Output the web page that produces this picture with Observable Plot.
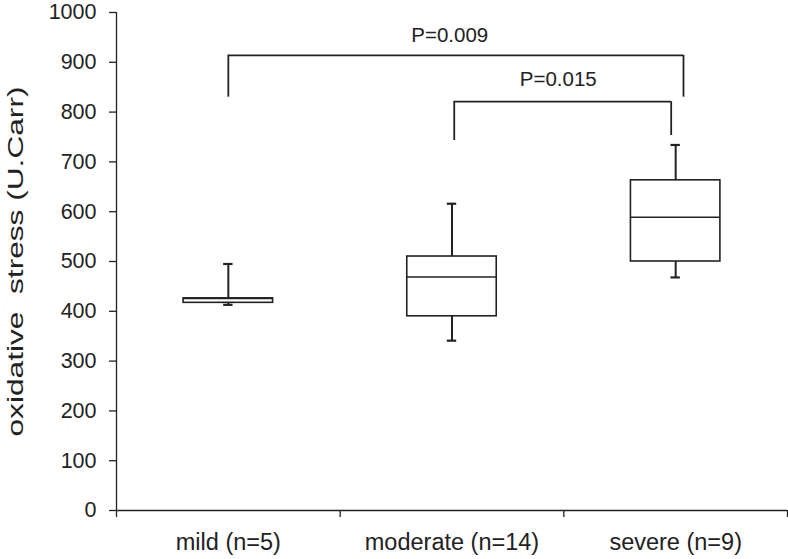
<!DOCTYPE html>
<html>
<head>
<meta charset="utf-8">
<script src="https://cdn.jsdelivr.net/npm/d3@7"></script>
<script src="https://cdn.jsdelivr.net/npm/@observablehq/plot@0.6"></script>
<style>
  html, body { margin: 0; padding: 0; background: #fff; }
  svg text { white-space: pre; }
</style>
</head>
<body>
<div id="chart"></div>
<script>
// ---- data ----
const groups = ["mild (n=5)", "moderate (n=14)", "severe (n=9)"];
const groupPos = [0.5, 1.5, 2.5];
const whiskerLow = [413, 341, 468];
const q1 = [417, 390, 500];
const median = [426, 469, 589];
const q3 = [426, 510, 663];
const whiskerHigh = [495, 616, 734];

const yTicks = [0, 100, 200, 300, 400, 500, 600, 700, 800, 900, 1000];
const yLabel = "oxidative  stress (U.Carr)";

// significance brackets
const bracketLabels = ["P=0.009", "P=0.015"];
const bracketLeft = [0.5, 1.51];
const bracketRight = [2.535, 2.48];
const bracketTop = [914, 821];
const bracketLeftEnd = [830, 743];
const bracketRightEnd = [830, 753];
const bracketLabelX = [1.49, 1.975];
const bracketLabelY = [953, 866];

// ---- tables ----
const boxes = groups.map((g, i) => ({
  g, x: groupPos[i], lo: whiskerLow[i], q1: q1[i], med: median[i], q3: q3[i], hi: whiskerHigh[i]
}));
const brackets = bracketLabels.map((t, i) => ({
  t, x1: bracketLeft[i], x2: bracketRight[i], top: bracketTop[i],
  le: bracketLeftEnd[i], re: bracketRightEnd[i], tx: bracketLabelX[i], ty: bracketLabelY[i]
}));

const boxHalf = 0.2, capHalf = 0.021;
const ink = "#222";

const chart = Plot.plot({
  width: 788,
  height: 559,
  marginLeft: 116,
  marginRight: 1,
  marginTop: 12,
  marginBottom: 49,
  style: { fontFamily: "'Liberation Sans', Arial, sans-serif", color: ink, background: "#fff" },
  x: { domain: [0, 3], axis: null },
  y: { domain: [0, 1000], axis: null },
  marks: [
    // y axis
    Plot.axisY({
      ticks: yTicks, tickSize: 7, tickPadding: 13, fontSize: 21.5, stroke: ink, strokeWidth: 1.3,
      tickFormat: (d) => String(d),
      label: yLabel, labelAnchor: "center", labelArrow: "none", labelOffset: 109
    }),
    Plot.ruleX([0], { y1: 0, y2: 1000, stroke: ink, strokeWidth: 1.3 }),
    // x axis
    Plot.ruleY([0], { x1: 0, x2: 3, stroke: ink, strokeWidth: 1.3 }),
    Plot.axisX({ ticks: [0, 1, 2, 3], tickSize: 7, tickFormat: () => "", stroke: ink, strokeWidth: 1.3 }),
    Plot.axisX({ ticks: groupPos, tickSize: 0, tickPadding: 23, fontSize: 23.5,
      tickFormat: (d) => groups[groupPos.indexOf(d)] }),
    // whiskers
    Plot.ruleX(boxes, { x: "x", y1: "q3", y2: "hi", stroke: ink, strokeWidth: 2 }),
    Plot.ruleX(boxes, { x: "x", y1: "lo", y2: "q1", stroke: ink, strokeWidth: 2 }),
    Plot.ruleY(boxes, { y: "hi", x1: (d) => d.x - capHalf, x2: (d) => d.x + capHalf, stroke: ink, strokeWidth: 2.2 }),
    Plot.ruleY(boxes, { y: "lo", x1: (d) => d.x - capHalf, x2: (d) => d.x + capHalf, stroke: ink, strokeWidth: 2.2 }),
    // boxes
    Plot.rect(boxes, { x1: (d) => d.x - boxHalf, x2: (d) => d.x + boxHalf, y1: "q1", y2: "q3",
      fill: "white", stroke: ink, strokeWidth: 1.6 }),
    Plot.ruleY(boxes, { y: "med", x1: (d) => d.x - boxHalf, x2: (d) => d.x + boxHalf, stroke: ink, strokeWidth: 1.6 }),
    // brackets
    Plot.ruleY(brackets, { y: "top", x1: "x1", x2: "x2", stroke: ink, strokeWidth: 1.8 }),
    Plot.ruleX(brackets, { x: "x1", y1: "le", y2: "top", stroke: ink, strokeWidth: 1.8 }),
    Plot.ruleX(brackets, { x: "x2", y1: "re", y2: "top", stroke: ink, strokeWidth: 1.8 }),
    Plot.text(brackets, { x: "tx", y: "ty", text: "t", fontSize: 20.5, fill: ink })
  ]
});
document.getElementById("chart").appendChild(chart);

// the reference's rotated axis title is drawn elongated along its reading direction
d3.select(chart).selectAll("text")
  .filter(function () { return this.textContent === yLabel; })
  .attr("textLength", 350)
  .attr("lengthAdjust", "spacingAndGlyphs");
</script>
</body>
</html>
